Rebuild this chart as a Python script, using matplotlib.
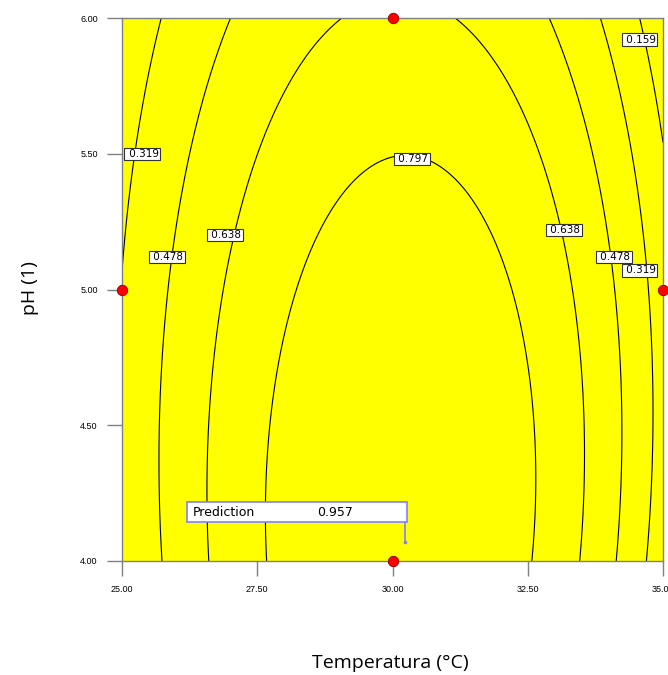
import numpy as np
import matplotlib
matplotlib.use("Agg")
import matplotlib.pyplot as plt
from matplotlib.patches import Rectangle

# design points (Temperatura, pH)
design_temp = [25.0, 30.0, 30.0, 35.0]
design_ph = [5.0, 6.0, 4.0, 5.0]

# cubic response model in coded units A=(T-30)/5, B=(pH-5)/1
coef_names = ["1", "A", "B", "A2", "AB", "B2", "A3", "A2B", "AB2", "B3"]
coef_vals = [0.8944, 0.0710, -0.1622, -0.6118, -0.0165,
             -0.0816, -0.1120, 0.0813, -0.0259, 0.0106]

levels = [0.159, 0.319, 0.478, 0.638, 0.797]

# contour label positions (T, pH) and text
label_temp = [25.37, 25.83, 26.90, 30.36, 33.17, 34.09, 34.57, 34.57]
label_ph = [5.50, 5.12, 5.20, 5.48, 5.22, 5.12, 5.07, 5.92]
label_txt = ["0.319", "0.478", "0.638", "0.797", "0.638", "0.478", "0.319", "0.159"]

xticks = [25.0, 27.5, 30.0, 32.5, 35.0]
yticks = [4.0, 4.5, 5.0, 5.5, 6.0]

pred_value = "0.957"


def model(T, pH):
    A = (T - 30.0) / 5.0
    B = pH - 5.0
    terms = {"1": np.ones_like(A), "A": A, "B": B, "A2": A ** 2, "AB": A * B,
             "B2": B ** 2, "A3": A ** 3, "A2B": A ** 2 * B, "AB2": A * B ** 2,
             "B3": B ** 3}
    return sum(c * terms[n] for n, c in zip(coef_names, coef_vals))


fig = plt.figure(figsize=(6.68, 6.75), dpi=100)
ax = fig.add_axes([122 / 668, 1 - 561 / 675, 541 / 668, 543 / 675])

T, P = np.meshgrid(np.linspace(25, 35, 400), np.linspace(4, 6, 400))
Z = model(T, P)
ax.contourf(T, P, Z, levels=[-10, 10], colors=["#ffff00"])
ax.contour(T, P, Z, levels=levels, colors="black", linewidths=0.8)

for x, y, s in zip(label_temp, label_ph, label_txt):
    ax.text(x, y, " " + s, fontsize=7.5, ha="center", va="center", zorder=5,
            bbox=dict(boxstyle="square,pad=0.12", fc="white", ec="#333333", lw=0.8))

ax.plot(design_temp, design_ph, "o", color="red", mec="#800000", mew=0.6,
        ms=7.5, clip_on=False, zorder=6)

# prediction flag
ax.add_patch(Rectangle((26.20, 4.144), 4.07, 0.073, fc="white", ec="#8080ff",
                       lw=1.2, zorder=7))
ax.text(26.30, 4.18, "Prediction", fontsize=9, va="center", zorder=8)
ax.text(28.60, 4.18, pred_value, fontsize=9, va="center", zorder=8)
ax.plot([30.24, 30.24], [4.144, 4.07], color="#8080ff", lw=1.2, zorder=7)
ax.plot([30.24], [4.07], "s", color="#8080ff", ms=2, zorder=7)

ax.set_xlim(25, 35)
ax.set_ylim(4, 6)
ax.set_xticks(xticks)
ax.set_yticks(yticks)
ax.set_xticklabels([f"{v:.2f}" for v in xticks], fontsize=6.5, family="Liberation Sans")
ax.set_yticklabels([f"{v:.2f}" for v in yticks], fontsize=6.5, family="Liberation Sans")
ax.tick_params(direction="out", length=11, width=1, color="#808080", pad=6.5)
for sp in ax.spines.values():
    sp.set_color("#808080")
    sp.set_linewidth(1)

fig.text(390 / 668, 1 - 663 / 675, "Temperatura (°C)", fontsize=14, family="Open Sans",
         ha="center", va="center")
fig.text(30 / 668, 1 - 288 / 675, "pH (1)", fontsize=14, family="Open Sans",
         ha="center", va="center", rotation=90)

fig.savefig("out.png", dpi=100)
